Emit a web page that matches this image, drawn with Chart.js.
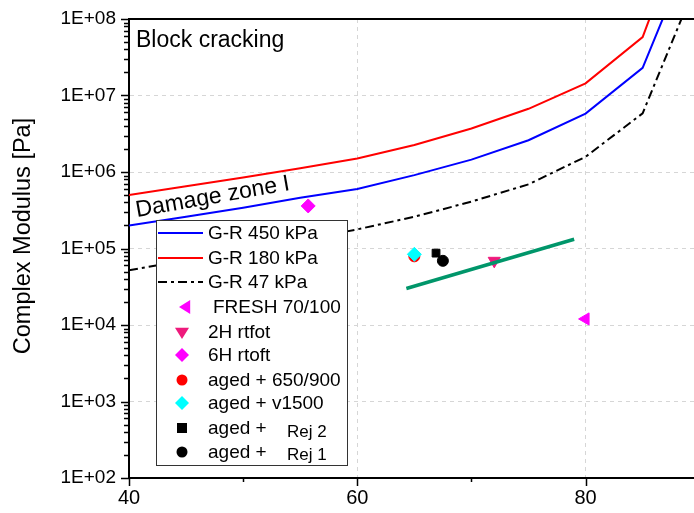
<!DOCTYPE html>
<html>
<head>
<meta charset="utf-8">
<script src="https://cdn.jsdelivr.net/npm/chart.js@4/dist/chart.umd.min.js"></script>
<style>
  body { margin: 0; background: #fff; overflow: hidden; }
  #myChart { display: block; }
</style>
</head>
<body>
<canvas id="myChart" width="694" height="513"></canvas>
<script>
/* Gordon-Ross curves, shared x positions */
const grX = [40, 45, 50, 55, 60, 65, 70, 75, 80, 85, 90];
const gr450 = [2.0e5, 2.6e5, 3.4e5, 4.6e5, 6.0e5, 9.1e5, 1.45e6, 2.6e6, 5.8e6, 2.3e7, 1.5e9];
const gr180 = [5.0e5, 6.5e5, 8.5e5, 1.12e6, 1.5e6, 2.25e6, 3.7e6, 6.7e6, 1.44e7, 5.8e7, 5.7e9];
const gr47 = [5.2e4, 7.0e4, 9.4e4, 1.27e5, 1.78e5, 2.6e5, 4.1e5, 6.9e5, 1.58e6, 5.85e6, 3.8e8];

/* green trend line */
const fitX = [64.3, 79.0];
const fitY = [3.0e4, 1.32e5];

/* measured samples */
const freshX = [80.0], freshY = [1.2e4];
const rtfot2X = [72.0], rtfot2Y = [6.9e4];
const rtoft6X = [55.7], rtoft6Y = [3.6e5];
const aged650X = [65.0], aged650Y = [7.9e4];
const v1500X = [65.0], v1500Y = [8.4e4];
const rej2X = [66.9], rej2Y = [8.7e4];
const rej1X = [67.5], rej1Y = [6.9e4];

const xTicks = [40, 60, 80];
const FONT = '"Liberation Sans", Arial, sans-serif';

function pts(xs, ys) {
  return xs.map((x, i) => ({ x: x, y: ys[i] }));
}

function lineSet(label, xs, ys, color, width, dash) {
  return {
    type: "line", label: label, data: pts(xs, ys),
    borderColor: color, borderWidth: width, borderDash: dash || [],
    pointRadius: 0, fill: false, tension: 0,
  };
}

function markSet(label, xs, ys, color, style, radius, rot, order) {
  return {
    type: "scatter", label: label, data: pts(xs, ys),
    backgroundColor: color, borderColor: color, borderWidth: 1,
    pointStyle: style, pointRadius: radius, rotation: rot || 0,
    order: order || 0,
  };
}

const datasets = [
  lineSet("G-R 450 kPa", grX, gr450, "#0000ff", 2),
  lineSet("G-R 180 kPa", grX, gr180, "#ff0000", 2),
  lineSet("G-R 47 kPa", grX, gr47, "#000000", 2, [9, 4, 3, 4]),
  lineSet("fit", fitX, fitY, "#00966a", 3.5),
  markSet("FRESH 70/100", freshX, freshY, "#ff00ff", "triangle", 7, -90),
  markSet("2H rtfot", rtfot2X, rtfot2Y, "#ee1a7c", "triangle", 7, 180),
  markSet("6H rtoft", rtoft6X, rtoft6Y, "#ff00ff", "rectRot", 7),
  markSet("aged + 650/900", aged650X, aged650Y, "#ff0000", "circle", 5.5, 0, 2),
  markSet("aged + v1500", v1500X, v1500Y, "#00ffff", "rectRot", 7, 0, 1),
  markSet("aged + Rej 2", rej2X, rej2Y, "#000000", "rect", 5.5),
  markSet("aged + Rej 1", rej1X, rej1Y, "#000000", "circle", 5.5),
];

function isDecade(v) {
  const l = Math.log10(v);
  return Math.abs(l - Math.round(l)) < 1e-6;
}

function sym(ctx, kind, x, y, r, color) {
  ctx.fillStyle = color;
  ctx.beginPath();
  if (kind == "left") {
    ctx.moveTo(x - r, y); ctx.lineTo(x + r * 0.6, y - r); ctx.lineTo(x + r * 0.6, y + r);
  } else if (kind == "down") {
    ctx.moveTo(x - r, y - r * 0.6); ctx.lineTo(x + r, y - r * 0.6); ctx.lineTo(x, y + r);
  } else if (kind == "diamond") {
    ctx.moveTo(x, y - r); ctx.lineTo(x + r, y); ctx.lineTo(x, y + r); ctx.lineTo(x - r, y);
  } else if (kind == "square") {
    ctx.rect(x - r, y - r, 2 * r, 2 * r);
  } else {
    ctx.arc(x, y, r, 0, Math.PI * 2);
  }
  ctx.closePath();
  ctx.fill();
}

/* axes decoration, texts and the boxed legend */
const decor = {
  id: "decor",
  afterDraw(chart) {
    const ctx = chart.ctx;
    const a = chart.chartArea;
    const xs = chart.scales.x, ys = chart.scales.y;
    ctx.save();
    ctx.strokeStyle = "#000";
    ctx.lineWidth = 2;
    ctx.beginPath();
    ctx.moveTo(a.left, a.top); ctx.lineTo(a.right, a.top);
    ctx.stroke();

    /* y ticks, minor ones shorter */
    ctx.lineWidth = 1.5;
    ctx.beginPath();
    for (let e = 2; e < 8; e++) {
      for (let m = 1; m <= 9; m++) {
        const py = Math.round(ys.getPixelForValue(m * Math.pow(10, e))) + 0.5;
        const len = m == 1 ? 8 : 5;
        ctx.moveTo(a.left - len, py); ctx.lineTo(a.left, py);
      }
    }
    const top = Math.round(ys.getPixelForValue(1e8)) + 0.5;
    ctx.moveTo(a.left - 8, top); ctx.lineTo(a.left, top);
    /* x ticks */
    for (let v = 40; v <= xs.max; v += 10) {
      const px = Math.round(xs.getPixelForValue(v)) + 0.5;
      const len = v % 20 == 0 ? 8 : 4;
      ctx.moveTo(px, a.bottom); ctx.lineTo(px, a.bottom + len);
    }
    ctx.stroke();

    /* texts */
    ctx.fillStyle = "#000";
    ctx.font = "23px " + FONT;
    ctx.textAlign = "left";
    ctx.textBaseline = "alphabetic";
    ctx.fillText("Block cracking", 136, 47);
    ctx.save();
    ctx.translate(137, 217);
    ctx.rotate(-10 * Math.PI / 180);
    ctx.fillText("Damage zone I", 0, 0);
    ctx.restore();

    ctx.save();
    ctx.font = "23.5px " + FONT;
    ctx.textAlign = "center";
    ctx.textBaseline = "middle";
    ctx.translate(24, 236);
    ctx.rotate(-Math.PI / 2);
    ctx.fillText("Complex Modulus [Pa]", 0, 0);
    ctx.restore();

    /* legend */
    const lx = 156.5, ly = 220.5, lw = 191, lh = 245;
    ctx.fillStyle = "#fff";
    ctx.fillRect(lx, ly, lw, lh);
    ctx.strokeStyle = "#333";
    ctx.lineWidth = 1;
    ctx.strokeRect(lx, ly, lw, lh);

    const rows = [233, 258, 282, 307, 332, 355, 380, 403, 428, 452];
    const lines = [datasets[0], datasets[1], datasets[2]];
    ctx.font = "19px " + FONT;
    ctx.textBaseline = "middle";
    ctx.textAlign = "left";
    lines.forEach((d, i) => {
      ctx.strokeStyle = d.borderColor;
      ctx.lineWidth = 2;
      ctx.setLineDash(d.borderDash);
      ctx.beginPath();
      ctx.moveTo(158, rows[i]); ctx.lineTo(203, rows[i]);
      ctx.stroke();
      ctx.setLineDash([]);
      ctx.fillStyle = "#000";
      ctx.fillText(d.label, 208, rows[i] + 1);
    });
    const marks = [
      ["left", "#ff00ff", 186, "FRESH 70/100", 213],
      ["down", "#ee1a7c", 182, "2H rtfot", 208],
      ["diamond", "#ff00ff", 182, "6H rtoft", 208],
      ["circle", "#ff0000", 182, "aged + 650/900", 208],
      ["diamond", "#00ffff", 182, "aged + v1500", 208],
      ["square", "#000000", 182, "aged +", 208],
      ["circle", "#000000", 182, "aged +", 208],
    ];
    marks.forEach((m, i) => {
      const y = rows[i + 3];
      const r = m[0] == "square" ? 5 : m[0] == "circle" ? 5.5 : 7;
      sym(ctx, m[0], m[2], y, r, m[1]);
      ctx.fillStyle = "#000";
      ctx.font = "19px " + FONT;
      ctx.fillText(m[3], m[4], y + 1);
    });
    ctx.font = "17px " + FONT;
    ctx.fillText("Rej 2", 287, rows[8] + 4);
    ctx.fillText("Rej 1", 287, rows[9] + 3);
    ctx.restore();
  },
};

const ctx = document.getElementById("myChart");
new Chart(ctx, {
  type: "scatter",
  data: { datasets: datasets },
  plugins: [decor],
  options: {
    responsive: false,
    animation: false,
    layout: { autoPadding: false, padding: { top: 19, right: 0, left: 0, bottom: 0 } },
    plugins: { legend: { display: false }, tooltip: { enabled: false } },
    scales: {
      x: {
        type: "linear", min: 40, max: 89.5,
        afterFit: (s) => { s.height = 35; s.paddingRight = 0; s.paddingLeft = 0; },
        ticks: {
          stepSize: 10, padding: 8, color: "#000",
          font: { family: FONT, size: 20 },
          callback: (v) => (xTicks.includes(v) ? String(v) : ""),
        },
        grid: {
          drawTicks: false,
          color: (c) => (c.tick && xTicks.includes(c.tick.value) ? "#d6d6d6" : "rgba(0,0,0,0)"),
        },
        border: { display: true, color: "#000", width: 2, dash: [4, 4] },
      },
      y: {
        type: "logarithmic", min: 1e2, max: 1e8,
        afterFit: (s) => { s.width = 129; s.paddingTop = 0; s.paddingBottom = 0; },
        ticks: {
          autoSkip: false, padding: 13, color: "#000",
          font: { family: FONT, size: 19 },
          callback: (v) => (isDecade(v) ? "1E+0" + Math.round(Math.log10(v)) : ""),
        },
        grid: {
          drawTicks: false,
          color: (c) => (c.tick && isDecade(c.tick.value) ? "#d6d6d6" : "rgba(0,0,0,0)"),
        },
        border: { display: true, color: "#000", width: 2, dash: [4, 4] },
      },
    },
  },
});
</script>
</body>
</html>
